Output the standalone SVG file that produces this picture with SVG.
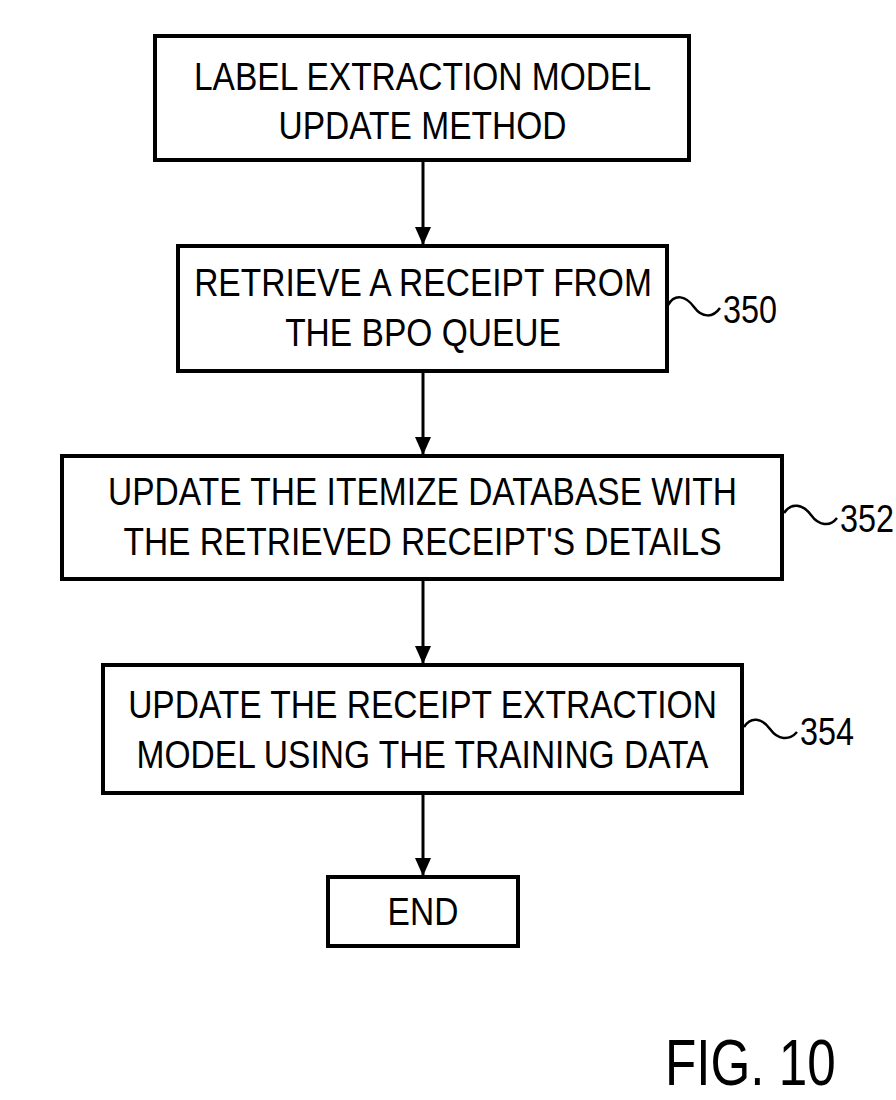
<svg xmlns="http://www.w3.org/2000/svg" width="896" height="1100" viewBox="0 0 896 1100">
<style>
.box{fill:#fff;stroke:#000;stroke-width:4}
.t{font-family:"Liberation Sans",Arial,sans-serif;font-size:39px;fill:#000;text-anchor:middle}
.n{font-family:"Liberation Sans",Arial,sans-serif;font-size:39px;fill:#000;text-anchor:start}
.f{font-family:"Liberation Sans",Arial,sans-serif;font-size:64px;fill:#000;text-anchor:start}
.c{fill:none;stroke:#000;stroke-width:3}
.sq{fill:none;stroke:#000;stroke-width:2.5}
</style>
<defs>
<marker id="ah" markerUnits="userSpaceOnUse" markerWidth="18" markerHeight="16" refX="18" refY="8" orient="auto">
<path d="M0,0 L18,8 L0,16 z" fill="#000"/>
</marker>
</defs>
<rect width="896" height="1100" fill="#fff"/>
<g id="connectors">
<line class="c" x1="423" y1="160" x2="423" y2="245" marker-end="url(#ah)"/>
<line class="c" x1="423" y1="371" x2="423" y2="455" marker-end="url(#ah)"/>
<line class="c" x1="423" y1="579" x2="423" y2="664" marker-end="url(#ah)"/>
<line class="c" x1="423" y1="793" x2="423" y2="876" marker-end="url(#ah)"/>
</g>
<g id="start">
<rect class="box" x="155" y="36" width="534" height="124"/>
<text class="t" transform="translate(422.5,90) scale(0.86,1)">LABEL EXTRACTION MODEL</text>
<text class="t" transform="translate(422.5,139) scale(0.86,1)">UPDATE METHOD</text>
</g>
<g id="step350">
<rect class="box" x="178" y="246" width="489" height="125"/>
<text class="t" transform="translate(423,296) scale(0.86,1)">RETRIEVE A RECEIPT FROM</text>
<text class="t" transform="translate(423,346) scale(0.86,1)">THE BPO QUEUE</text>
<path class="sq" d="M668,305 C675,293 686,296 694,307 C702,318 713,318 720,308"/>
<text class="n" transform="translate(723,323) scale(0.83,1)">350</text>
</g>
<g id="step352">
<rect class="box" x="62" y="456" width="720" height="123"/>
<text class="t" transform="translate(422.5,505) scale(0.86,1)">UPDATE THE ITEMIZE DATABASE WITH</text>
<text class="t" transform="translate(422.5,555) scale(0.86,1)">THE RETRIEVED RECEIPT'S DETAILS</text>
<path class="sq" d="M784,513 C791,502 803,504 811,515 C819,526 830,527 837,518"/>
<text class="n" transform="translate(840,532) scale(0.83,1)">352</text>
</g>
<g id="step354">
<rect class="box" x="103" y="665" width="639" height="128"/>
<text class="t" transform="translate(422.5,718) scale(0.86,1)">UPDATE THE RECEIPT EXTRACTION</text>
<text class="t" transform="translate(422.5,768) scale(0.86,1)">MODEL USING THE TRAINING DATA</text>
<path class="sq" d="M744,727 C751,716 762,718 770,729 C778,740 789,741 797,732"/>
<text class="n" transform="translate(800,745) scale(0.83,1)">354</text>
</g>
<g id="end">
<rect class="box" x="328" y="877" width="190" height="69"/>
<text class="t" transform="translate(423,925) scale(0.86,1)">END</text>
</g>
<g id="caption">
<text class="f" transform="translate(665,1085) scale(0.8,1)">FIG. 10</text>
</g>
</svg>
